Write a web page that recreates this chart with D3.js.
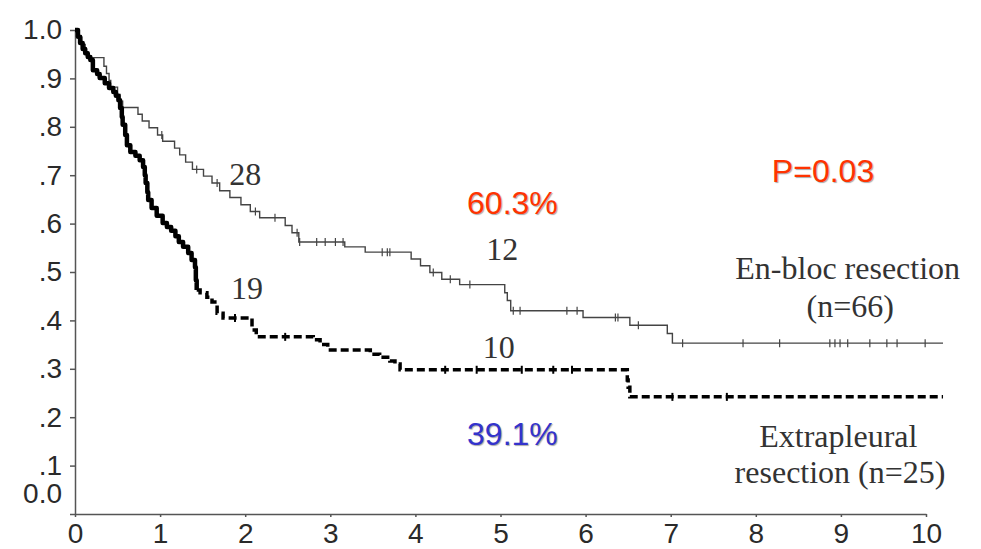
<!DOCTYPE html>
<html lang="en">
<head>
<meta charset="UTF-8">
<title>Survival by resection type</title>
<script src="https://cdn.jsdelivr.net/npm/d3@7"></script>
<style>
  body { margin: 0; background: #fff; }
  .axis path, .axis line { stroke: #555; stroke-width: 1.5; }
  .axis text { font-family: "Liberation Sans", Arial, sans-serif; font-size: 28px; fill: #2a2a2a; }
  .risk { font-family: "Liberation Serif", "Times New Roman", serif; font-size: 32px; fill: #333; }
  .pct { font-family: "Liberation Sans", Arial, sans-serif; font-size: 32px; }
</style>
</head>
<body>
<script>
// en-bloc resection (n=66): step times (years) and survival after each step
const enblocTime = [0, 0.04, 0.08, 0.12, 0.15, 0.34, 0.37, 0.40, 0.42, 0.50, 0.53, 0.56,
  0.74, 0.79, 0.87, 0.97, 1.03, 1.17, 1.23, 1.30, 1.38, 1.51, 1.61, 1.70, 1.82, 1.95,
  2.06, 2.17, 2.47, 2.55, 2.63, 3.17, 3.41, 3.95, 4.06, 4.17, 4.31, 4.52, 5.05, 5.08,
  5.12, 5.97, 6.52, 6.96, 7.02, 10.2];
const enblocSurv = [1.0, 0.985, 0.970, 0.955, 0.943, 0.925, 0.910, 0.896, 0.882, 0.867,
  0.853, 0.840, 0.826, 0.812, 0.798, 0.783, 0.770, 0.756, 0.742, 0.727, 0.712, 0.698,
  0.684, 0.668, 0.654, 0.639, 0.625, 0.612, 0.596, 0.581, 0.562, 0.552, 0.541, 0.527,
  0.513, 0.499, 0.485, 0.474, 0.457, 0.441, 0.420, 0.406, 0.390, 0.373, 0.353, 0.353];
const enblocCensor = [1.02, 1.43, 1.67, 2.12, 2.35, 2.61, 2.64, 2.84, 2.94, 3.06, 3.15,
  3.61, 3.67, 3.70, 4.21, 4.41, 4.64, 5.15, 5.23, 5.78, 5.90, 6.35, 6.38, 6.62, 7.14,
  7.85, 8.28, 8.87, 8.93, 8.99, 9.08, 9.34, 9.54, 9.66, 9.99];

// extrapleural resection (n=25)
const extraTime = [0, 0.035, 0.06, 0.09, 0.12, 0.15, 0.18, 0.21, 0.26, 0.29, 0.35, 0.40,
  0.45, 0.48, 0.51, 0.53, 0.55, 0.56, 0.59, 0.61, 0.65, 0.71, 0.76, 0.80, 0.82, 0.83,
  0.85, 0.86, 0.90, 0.96, 1.03, 1.08, 1.13, 1.18, 1.22, 1.27, 1.33, 1.37, 1.41, 1.42,
  1.43, 1.47, 1.55, 1.61, 1.67, 1.74, 2.08, 2.13, 2.80, 2.88, 2.97, 3.47, 3.58, 3.70,
  3.76, 3.82, 6.49, 6.50, 6.52, 10.2];
const extraSurv = [1.0, 0.986, 0.973, 0.961, 0.952, 0.944, 0.938, 0.917, 0.909, 0.901,
  0.890, 0.880, 0.872, 0.864, 0.855, 0.839, 0.820, 0.804, 0.783, 0.762, 0.748, 0.740,
  0.731, 0.717, 0.700, 0.684, 0.665, 0.649, 0.632, 0.616, 0.601, 0.593, 0.585, 0.574,
  0.562, 0.552, 0.539, 0.525, 0.510, 0.483, 0.463, 0.457, 0.448, 0.438, 0.415, 0.405,
  0.380, 0.366, 0.360, 0.350, 0.339, 0.330, 0.324, 0.316, 0.310, 0.298, 0.277, 0.262,
  0.242, 0.242];
const extraCensor = [1.88, 2.47, 4.35, 4.72, 5.25, 5.62, 5.84, 7.02, 7.66];
const extraDashFrom = 1.43;

const xTicks = [0, 1, 2, 3, 4, 5, 6, 7, 8, 9, 10];
const yTicks = [0, 0.1, 0.2, 0.3, 0.4, 0.5, 0.6, 0.7, 0.8, 0.9, 1.0];

const W = 981, H = 549;
const svg = d3.select("body").append("svg")
  .attr("width", W).attr("height", H)
  .style("background", "#fff");

const x = d3.scaleLinear().domain([0, 10]).range([75, 926]);
const y = d3.scaleLinear().domain([0, 1]).range([514, 30]);

// axes
svg.append("g")
  .attr("class", "axis")
  .attr("transform", `translate(${x(0)},0)`)
  .call(d3.axisLeft(y).tickValues(yTicks).tickSize(5).tickSizeOuter(0).tickPadding(8)
    .tickFormat(d => d === 1 ? "1.0" : d === 0 ? "0.0" : "." + Math.round(d * 10)))
  .selectAll(".tick text")
  .attr("y", d => d === 0 ? -20 : 0);

svg.append("g")
  .attr("class", "axis")
  .attr("transform", `translate(0,${y(0)})`)
  .call(d3.axisBottom(x).tickValues(xTicks).tickSize(3).tickSizeOuter(0).tickPadding(6)
    .tickFormat(d3.format("d")));

const line = d3.line()
  .x(d => x(d[0]))
  .y(d => y(d[1]))
  .curve(d3.curveStepAfter);

const enbloc = enblocTime.map((t, i) => [t, enblocSurv[i]]);
const extra = extraTime.map((t, i) => [t, extraSurv[i]]);

// step value at time t
const valueAt = (pts, t) => {
  let v = pts[0][1];
  pts.forEach(p => { if (p[0] <= t) v = p[1]; });
  return v;
};

// en-bloc: thin gray line
svg.append("path")
  .attr("d", line(enbloc))
  .attr("fill", "none")
  .attr("stroke", "#444")
  .attr("stroke-width", 1.4);

svg.append("g").selectAll("line")
  .data(enblocCensor).enter()
  .append("line")
  .attr("x1", d => x(d)).attr("x2", d => x(d))
  .attr("y1", d => y(valueAt(enbloc, d)) - 4)
  .attr("y2", d => y(valueAt(enbloc, d)) + 4)
  .attr("stroke", "#444")
  .attr("stroke-width", 1.2);

// extrapleural: thick black, solid early then dashed
svg.append("path")
  .attr("d", line(extra.filter(d => d[0] <= extraDashFrom)))
  .attr("fill", "none")
  .attr("stroke", "#000")
  .attr("stroke-width", 4.5)
  .attr("stroke-linejoin", "round");

svg.append("path")
  .attr("d", line(extra.filter(d => d[0] >= extraDashFrom)))
  .attr("fill", "none")
  .attr("stroke", "#000")
  .attr("stroke-width", 3.5)
  .attr("stroke-dasharray", "8,4");

svg.append("g").selectAll("line")
  .data(extraCensor).enter()
  .append("line")
  .attr("x1", d => x(d)).attr("x2", d => x(d))
  .attr("y1", d => y(valueAt(extra, d)) - 4)
  .attr("y2", d => y(valueAt(extra, d)) + 4)
  .attr("stroke", "#000")
  .attr("stroke-width", 2);

// numbers at risk
const risk = (t, s, txt) => svg.append("text").attr("class", "risk")
  .attr("x", x(t)).attr("y", y(s)).attr("text-anchor", "middle").text(txt);
risk(2.0, 0.68, "28");
risk(2.02, 0.445, "19");
risk(5.02, 0.525, "12");
risk(4.98, 0.322, "10");

// group labels
risk(9.08, 0.485, "En-bloc resection");
risk(9.11, 0.407, "(n=66)");
risk(8.97, 0.138, "Extrapleural");
risk(8.99, 0.064, "resection (n=25)");

// percentages and p value
const pct = (t, s, txt, col) => svg.append("text").attr("class", "pct")
  .attr("x", x(t)).attr("y", y(s)).attr("text-anchor", "middle")
  .attr("fill", col)
  .style("text-shadow", "1px 1px 1px #aaa")
  .text(txt);
pct(5.14, 0.62, "60.3%", "#ff3300");
pct(5.14, 0.142, "39.1%", "#3333cc");
pct(8.79, 0.686, "P=0.03", "#ff3300");
</script>
</body>
</html>
